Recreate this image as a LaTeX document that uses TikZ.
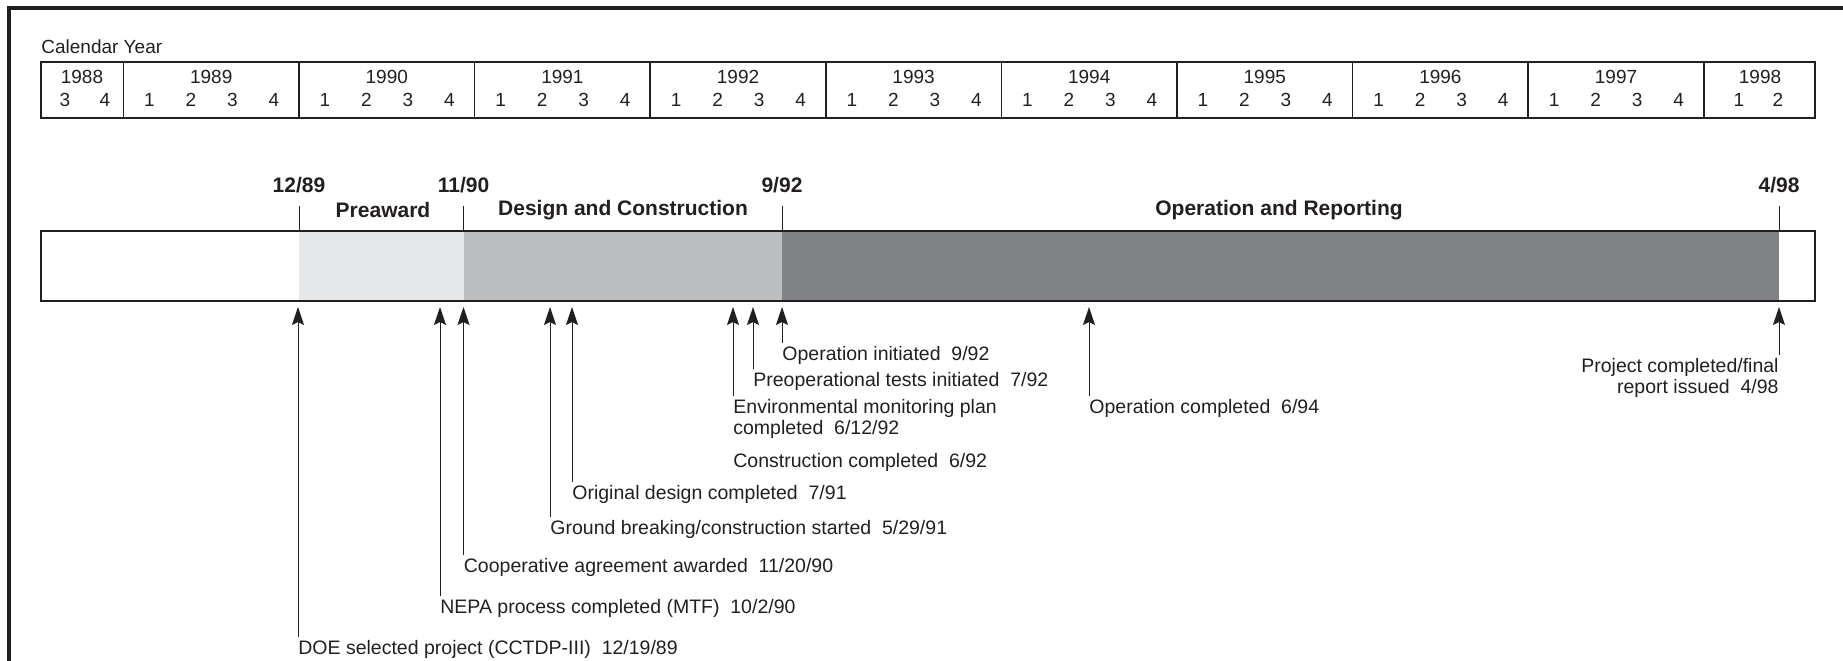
\documentclass[tikz,border=0pt]{standalone}
\usepackage{fontspec}
\setmainfont{Liberation Sans}
\usetikzlibrary{arrows.meta}
\definecolor{lightg}{HTML}{E6E7E8}
\definecolor{midg}{HTML}{BCBEC0}
\definecolor{darkg}{HTML}{808285}
\definecolor{ink}{HTML}{231F20}
\begin{document}
\begin{tikzpicture}[x=0.5pt,y=-0.5pt,
  lbl/.style={font=\fontsize{9.75pt}{10.5pt}\selectfont, inner xsep=0pt, inner ysep=1.5pt, anchor=north west, align=left, text=ink},
  tbl/.style={font=\fontsize{9.5pt}{10pt}\selectfont, inner sep=0pt, text=ink},
  ms/.style={font=\fontsize{10.5pt}{12pt}\selectfont\bfseries, inner sep=0pt, text=ink},
  arr/.style={draw=ink, line width=0.5pt, -{Stealth[length=9pt,width=6pt,inset=1.5pt]}},
  mstick/.style={draw=ink, line width=0.5pt},
]
\useasboundingbox (0,0) rectangle (1843,660);
% frame (left and top edges)
\draw[ink, line width=1.6pt] (9,665) -- (9,8) -- (1848,8);

% calendar header
\node[tbl, anchor=west] (cal) at (41,47) {Calendar Year};
\draw[ink, line width=0.75pt] (41,62) rectangle (1815,118);
\foreach \k in {0,...,9} {
  \draw[ink, line width=0.75pt] ({123.4+175.6*\k},62) -- ({123.4+175.6*\k},118);
}
\node[tbl] (y1988) at (82,77) {1988};
\node[tbl] (q1988c) at (65,100) {3};
\node[tbl] (q1988d) at (105,100) {4};
\foreach \yr [count=\k from 0] in {1989,...,1997} {
  \node[tbl] (y\yr) at ({123.4+175.6*\k+87.8},77) {\yr};
  \foreach \q in {1,2,3,4} {
    \node[tbl] (q\yr-\q) at ({123.4+175.6*\k+26+41.5*(\q-1)},100) {\q};
  }
}
\node[tbl] (y1998) at (1760,77) {1998};
\node[tbl] (q1998a) at (1739,100) {1};
\node[tbl] (q1998b) at (1778,100) {2};

% milestone labels
\node[ms] (m1) at (299,185) {12/89};
\node[ms] (m2) at (463.5,185) {11/90};
\node[ms] (m3) at (782,185) {9/92};
\node[ms] (m4) at (1779,185) {4/98};
\node[ms] (p1) at (383,210) {Preaward};
\node[ms] (p2) at (623,210) {Design and Construction};
\node[ms] (p3) at (1279,210) {Operation and Reporting};

% bar
\fill[lightg] (299,231) rectangle (463.5,301);
\fill[midg] (463.5,231) rectangle (782,301);
\fill[darkg] (782,231) rectangle (1779,301);
\draw[ink, line width=1.3pt] (41,231) rectangle (1815,301);

% ticks
\coordinate (k1a) at (299,206); \coordinate (k1b) at (299,231);
\coordinate (k2a) at (463.5,206); \coordinate (k2b) at (463.5,231);
\coordinate (k3a) at (782,206); \coordinate (k3b) at (782,231);
\coordinate (k4a) at (1779,206); \coordinate (k4b) at (1779,231);
\draw[mstick] (k1a) -- (k1b);
\draw[mstick] (k2a) -- (k2b);
\draw[mstick] (k3a) -- (k3b);
\draw[mstick] (k4a) -- (k4b);

% annotation labels
\node[lbl] (OI) at (782,343) {Operation initiated\ \ 9/92};
\node[lbl] (PT) at (753,369) {Preoperational tests initiated\ \ 7/92};
\node[lbl] (EM) at (733,396) {Environmental monitoring plan\\completed\ \ 6/12/92};
\node[lbl] (CC) at (733,450) {Construction completed\ \ 6/92};
\node[lbl] (OD) at (572,482) {Original design completed\ \ 7/91};
\node[lbl] (GB) at (550,517) {Ground breaking/construction started\ \ 5/29/91};
\node[lbl] (CA) at (463.5,555) {Cooperative agreement awarded\ \ 11/20/90};
\node[lbl] (NP) at (440,596) {NEPA process completed (MTF)\ \ 10/2/90};
\node[lbl] (DOE) at (298,637) {DOE selected project (CCTDP-III)\ \ 12/19/89};
\node[lbl] (OC) at (1089,396) {Operation completed\ \ 6/94};
\node[lbl, anchor=north east, align=right] (PC) at (1779,355) {Project completed/final\\report issued\ \ 4/98};

% arrow tips
\coordinate (tOI) at (782,307);
\coordinate (tPT) at (753,307);
\coordinate (tEM) at (733,307);
\coordinate (tOD) at (572,307);
\coordinate (tGB) at (550,307);
\coordinate (tCA) at (463.5,307);
\coordinate (tNP) at (440,307);
\coordinate (tDOE) at (298,307);
\coordinate (tOC) at (1089,307);
\coordinate (tPC) at (1779,307);

\draw[arr] (OI.north west) -- (tOI);
\draw[arr] (PT.north west) -- (tPT);
\draw[arr] (EM.north west) -- (tEM);
\draw[arr] (OD.north west) -- (tOD);
\draw[arr] (GB.north west) -- (tGB);
\draw[arr] (CA.north west) -- (tCA);
\draw[arr] (NP.north west) -- (tNP);
\draw[arr] (DOE.north west) -- (tDOE);
\draw[arr] (OC.north west) -- (tOC);
\draw[arr] (PC.north east) -- (tPC);
\end{tikzpicture}
\end{document}
